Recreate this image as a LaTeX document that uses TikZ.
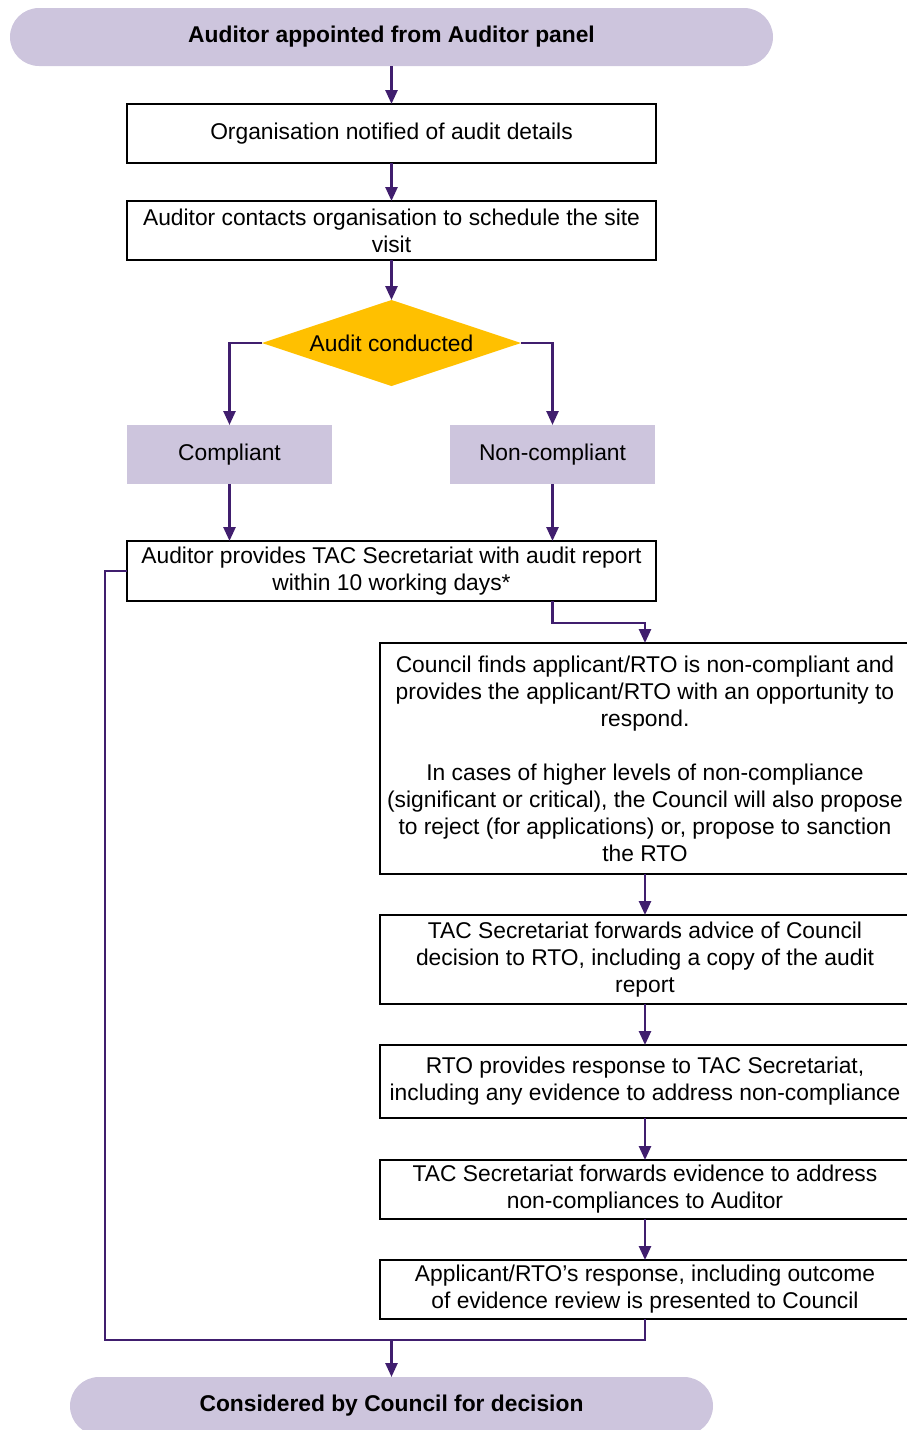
\documentclass[tikz,border=0pt]{standalone}
\usepackage{fontspec}
\setmainfont{Liberation Sans}
\usetikzlibrary{
    arrows.meta,
    positioning,
    shapes.geometric,
    calc
}
\tikzset{
    % Colors
    flow color/.style={color={rgb,255:red,64;green,30;blue,110}},
    lavender fill/.style={fill={rgb,255:red,205;green,197;blue,221}},
    gold fill/.style={fill={rgb,255:red,255;green,192;blue,0}},
    %
    % Nodes
    base box/.style={rectangle,inner sep=0pt,outer sep=0pt,align=center,font=\fontsize{22.8}{27}\selectfont},
    process box/.style={base box,draw=black,line width=2.8pt,fill=white,minimum width=529pt,minimum height=59pt},
    side box/.style={process box,minimum width=530pt},
    terminal/.style={base box,lavender fill,rounded corners=29pt,minimum height=58pt,font=\fontsize{22.8}{27}\selectfont\bfseries},
    branch box/.style={base box,lavender fill,minimum width=205pt,minimum height=59pt},
    decision/.style={base box,diamond,gold fill,aspect=3,minimum width=259pt,minimum height=86pt},
    %
    % Arrows
    arrow tip/.tip={Triangle[width=12pt,length=14pt]},
    line/.style={flow color,line width=2.6pt},
    arr/.style={line,-{arrow tip}},
}

\begin{document}
\begin{tikzpicture}[x=1pt,y=-1pt]
    \useasboundingbox (0,0) rectangle (906,1430);
    % main column
    \node[terminal,minimum width=763pt] (appointed) at (391.5,37) {Auditor appointed from Auditor panel};
    \node[process box] (notified) at (391.5,133.5) {Organisation notified of audit details};
    \node[process box] (contacts) at (391.5,230.5) {Auditor contacts organisation to schedule the site\\visit};
    \node[decision] (conducted) at (391.5,343) {Audit conducted};
    \node[branch box] (compliant) at (229.5,454.5) {Compliant};
    \node[branch box] (noncompliant) at (552.5,454.5) {Non-compliant};
    \node[process box,minimum height=60pt] (report) at (391.5,571) {Auditor provides TAC Secretariat with audit report\\within 10 working days*};
    % non-compliance column
    \node[side box,minimum height=231pt] (finds) at (645,758.5) {Council finds applicant/RTO is non-compliant and\\provides the applicant/RTO with an opportunity to\\respond.\\[27pt]In cases of higher levels of non-compliance\\(significant or critical), the Council will also propose\\to reject (for applications) or, propose to sanction\\the RTO};
    \node[side box,minimum height=89pt] (advice) at (645,959.5) {TAC Secretariat forwards advice of Council\\decision to RTO, including a copy of the audit\\report};
    \node[side box,minimum height=73pt] (response) at (645,1081.5) {RTO provides response to TAC Secretariat,\\including any evidence to address non-compliance};
    \node[side box] (evidence) at (645,1189.5) {TAC Secretariat forwards evidence to address\\non-compliances to Auditor};
    \node[side box] (presented) at (645,1289.5) {Applicant/RTO's response, including outcome\\of evidence review is presented to Council};
    \node[terminal,minimum width=643pt] (considered) at (391.5,1406) {Considered by Council for decision};
    \coordinate (merge) at (391.5,1340);

    \draw[arr] (appointed) -- (notified);
    \draw[arr] (notified) -- (contacts);
    \draw[arr] (contacts) -- (conducted);
    \draw[arr] (conducted.west) -| (compliant.north);
    \draw[arr] (conducted.east) -| (noncompliant.north);
    \draw[arr] (compliant.south) -- (compliant.south |- report.north);
    \draw[arr] (noncompliant.south) -- (noncompliant.south |- report.north);
    \draw[arr] (noncompliant.south |- report.south) -- ++(0,22) -| (finds.north);
    \draw[arr] (finds) -- (advice);
    \draw[arr] (advice) -- (response);
    \draw[arr] (response) -- (evidence);
    \draw[arr] (evidence) -- (presented);
    \draw[line] (report.west) -- ++(-22,0) |- (merge) -| (presented.south);
    \draw[arr] (merge) -- (considered);
\end{tikzpicture}
\end{document}
